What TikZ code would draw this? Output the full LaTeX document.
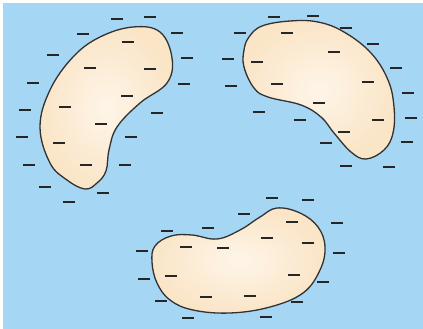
\documentclass[tikz,border=0pt]{standalone}
\usepackage{tikz}
\definecolor{water}{RGB}{165,214,243}
\definecolor{peach}{RGB}{250,229,199}
\definecolor{peachlight}{RGB}{254,245,232}
\definecolor{rim}{RGB}{50,50,50}
\tikzset{
  blob/.style={draw=rim,line width=1.3pt,inner color=peachlight,outer color=peach},
  charge/.style={black!85,line width=1.7pt}
}
\begin{document}
\begin{tikzpicture}[x=1pt,y=-1pt]
\useasboundingbox (0,0) rectangle (423,329);
\fill[water] (3,3) rectangle (423,329);
% left cell
\path[blob] plot[smooth cycle,tension=0.65] coordinates {(100,37) (133,27) (160,32) (172,58) (167,83) (140,103) (117,127) (109,150) (106,171) (97,183) (85,189) (67,180) (50,163) (40,127) (50,90) (73,57)};
% right cell
\path[blob] plot[smooth cycle,tension=0.65] coordinates {(262,26) (290,21) (318,22) (344,32) (371,53) (388,80) (394,107) (393,133) (384,150) (366,159) (351,152) (334,133) (321,117) (301,105) (268,97) (254,88) (244,67) (244,50) (249,37)};
% bottom cell
\path[blob] plot[smooth cycle,tension=0.65] coordinates {(171,236) (192,235) (217,239) (240,230) (260,217) (277,208) (300,213) (318,227) (325,247) (320,270) (303,293) (270,307) (230,313) (193,310) (170,300) (157,283) (152,262) (155,246)};
% charges
\foreach \p in {(117,19),(150,17),(177,33),(187,58),(184,84),(157,113),(131,137),(125,165),(103,193),(69,202),(45,187),(29,165),(22,137),(25,110),(33,83),(53,55),(83,34),
  (128,42),(90,68),(150,69),(127,96),(65,107),(101,124),(59,143),(86,165)}
  \draw[charge] \p ++(-6,0) -- ++(12,0);
\foreach \p in {(274,17),(313,16),(346,28),(373,44),(396,68),(408,93),(411,118),(407,142),(389,167),(346,166),(326,143),(300,120),(259,112),(231,86),(228,59),(240,33),
  (287,33),(334,52),(257,62),(277,84),(368,82),(319,103),(378,120),(344,132)}
  \draw[charge] \p ++(-6,0) -- ++(12,0);
\foreach \p in {(272,198),(308,200),(337,223),(339,253),(323,282),(297,302),(266,317),(188,318),(161,301),(144,279),(142,251),(167,231),(208,228),(244,214),
  (292,222),(267,238),(308,243),(186,247),(223,248),(171,276),(294,275),(206,297),(250,296)}
  \draw[charge] \p ++(-6,0) -- ++(12,0);
\end{tikzpicture}
\end{document}
